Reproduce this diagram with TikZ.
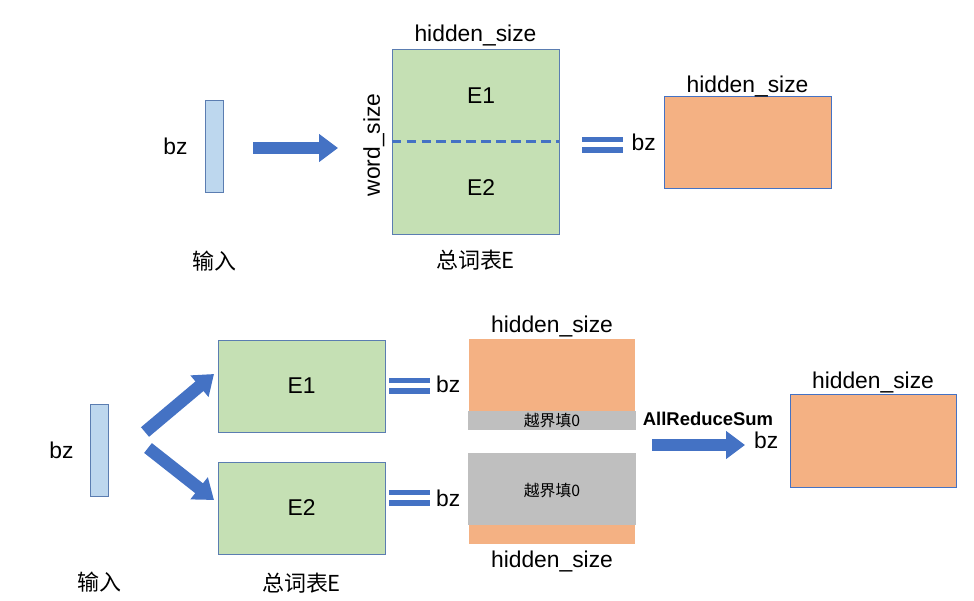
\documentclass[tikz,border=0pt]{standalone}
\usepackage{fontspec}
\setmainfont{Liberation Sans}
\newfontfamily\cjk{Noto Sans CJK SC}
\usepackage{xcolor}
\usetikzlibrary{positioning,arrows.meta}
\definecolor{arrowblue}{HTML}{4472C4}
\definecolor{edgeblue}{HTML}{5B7DB1}
\definecolor{barblue}{HTML}{BDD7EE}
\definecolor{vocabgreen}{HTML}{C5E0B4}
\definecolor{outorange}{HTML}{F4B183}
\definecolor{padgray}{HTML}{BFBFBF}

\begin{document}
\begin{tikzpicture}[x=0.02cm,y=-0.02cm,
    every node/.style={font=\fontsize{13}{15}\selectfont},
    inbar/.style={draw=edgeblue,fill=barblue,minimum width=.36cm,minimum height=1.84cm,inner sep=0pt},
    vocab/.style={draw=edgeblue,fill=vocabgreen,minimum width=3.34cm,minimum height=1.84cm,inner sep=0pt},
    outbox/.style={draw=arrowblue,fill=outorange,minimum width=3.34cm,minimum height=1.84cm,inner sep=0pt},
    dimtext/.style={inner sep=0pt},
    padtext/.style={font=\cjk\fontsize{9}{11}\selectfont,inner sep=0pt},
    blockarrow/.style={draw=arrowblue,line width=.25cm,-{Triangle[length=.38cm,width=.54cm]}},
    equals/.pic={\fill[arrowblue] (-20.5,-8) rectangle (20.5,-3);
                 \fill[arrowblue] (-20.5,2) rectangle (20.5,8);}]
    \useasboundingbox (0,0) rectangle (974,600);

    % top: full vocabulary on one card
    \node[inbar] (in1) at (214,146) {};
    \node[left=.22cm of in1] (bz1) {bz};
    \node[below=1.04cm of in1,font=\cjk\fontsize{12.5}{15}\selectfont] (inlbl1) {输入};

    \node[vocab,minimum height=3.7cm] (vocab) at (475.5,141.5) {};
    \draw[arrowblue,line width=1.5pt,dash pattern=on 5.5pt off 3pt] (vocab.west) -- (vocab.east);
    \node (e1top) at (481,96) {E1};
    \node (e2top) at (481,188) {E2};
    \node[dimtext,above=1.5pt of vocab] (hid1) {hidden\_size};
    \node[dimtext,rotate=90,anchor=south] (word) at ([xshift=-.14cm,yshift=-.07cm]vocab.west) {word\_size};
    \node[below=.2cm of vocab,font=\cjk\fontsize{12.5}{15}\selectfont] (tbl1) {总词表E};

    \coordinate (a1s) at (253,148);
    \coordinate (a1e) at (338,148);
    \draw[blockarrow] (a1s) -- (a1e);

    \pic at (602.5,145) {equals};
    \node[outbox] (out1) at (747.5,142) {};
    \node[left=1pt of out1] (bz2) {bz};
    \node[dimtext,above=-1pt of out1] (hid2) {hidden\_size};

    % bottom: vocabulary split over two cards
    \node[inbar] (in2) at (99,450) {};
    \node[left=.2cm of in2] (bz3) {bz};
    \node[below=1.38cm of in2,font=\cjk\fontsize{12.5}{15}\selectfont] (inlbl2) {输入};

    \node[vocab] (e1box) at (301.5,386) {E1};
    \node[vocab] (e2box) at (301.5,508) {E2};
    \node[below=.25cm of e2box,font=\cjk\fontsize{12.5}{15}\selectfont] (tbl2) {总词表E};

    \coordinate (up1) at (145,432);
    \coordinate (up2) at (214,374);
    \coordinate (dn1) at (148,448);
    \coordinate (dn2) at (214,500);
    \draw[blockarrow] (up1) -- (up2);
    \draw[blockarrow] (dn1) -- (dn2);

    \pic at (409,386) {equals};
    \pic at (409,498) {equals};

    \node[outbox,draw=none,minimum height=1.82cm] (part1) at (552,384.5) {};
    \fill[padgray] (part1.south west) rectangle ([yshift=.38cm]part1.south east);
    \node[padtext] (pad1) at ([yshift=.19cm]part1.south) {越界填0};
    \node[left=1pt of part1] (bz4) {bz};
    \node[dimtext,above=.5pt of part1] (hid3) {hidden\_size};

    \node[outbox,draw=none,minimum height=1.82cm] (part2) at (552,498.5) {};
    \fill[padgray] (part2.north west) rectangle ([yshift=-1.44cm]part2.north east);
    \node[padtext] (pad2) at ([yshift=-.76cm]part2.north) {越界填0};
    \node[left=1pt of part2] (bz5) {bz};
    \node[dimtext,below=3.5pt of part2] (hid4) {hidden\_size};

    \node[font=\bfseries\fontsize{10.5}{12}\selectfont] (reduce) at (708,419) {AllReduceSum};
    \coordinate (r1) at (652,445);
    \coordinate (r2) at (745,445);
    \draw[blockarrow] (r1) -- (r2);

    \node[outbox,minimum width=3.32cm,minimum height=1.86cm] (out2) at (873,440.5) {};
    \node[left=3pt of out2] (bz6) {bz};
    \node[dimtext,above=0pt of out2] (hid5) {hidden\_size};
  \end{tikzpicture}
\end{document}
